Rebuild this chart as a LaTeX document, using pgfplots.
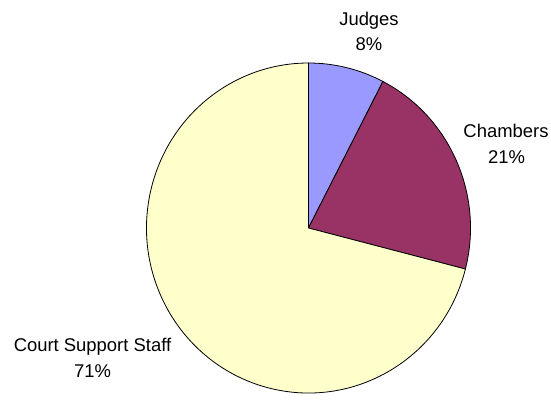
\documentclass[border=0pt]{standalone}
\usepackage{fontspec}
\setmainfont{Liberation Sans}
\usepackage{pgfplots}
\usepackage{pgfplotstable}
\pgfplotsset{compat=1.18}
\definecolor{cJudges}{HTML}{9999FF}
\definecolor{cChambers}{HTML}{993366}
\definecolor{cCourt}{HTML}{FFFFCC}
\pgfplotstableread{
share
7.6
21.4
71.0
}\piedata
\pgfplotstablegetelem{0}{share}\of\piedata \let\vJ\pgfplotsretval
\pgfplotstablegetelem{1}{share}\of\piedata \let\vC\pgfplotsretval
\pgfplotstablegetelem{2}{share}\of\piedata \let\vS\pgfplotsretval
\pgfmathsetmacro\aA{90}
\pgfmathsetmacro\aB{90-3.6*\vJ}
\pgfmathsetmacro\aC{\aB-3.6*\vC}
\pgfmathsetmacro\aD{\aC-3.6*\vS}
\begin{document}
\begin{tikzpicture}
\begin{axis}[
  scale only axis, width=551bp, height=396bp,
  xmin=0, xmax=551, ymin=0, ymax=396, y dir=reverse,
  hide axis, clip=false,
]
\path (axis cs:0,0) rectangle (axis cs:551,396);
\def\pieslice#1#2#3{%
  \filldraw[fill=#3, draw=black, line width=0.8bp, line join=round]
    (axis cs:308.5,228) -- ++({162bp*cos(#1)},{165bp*sin(#1)})
    arc[start angle=#1, end angle=#2, x radius=162bp, y radius=165bp] -- cycle;}
\pieslice{\aA}{\aB}{cJudges}
\pieslice{\aB}{\aC}{cChambers}
\pieslice{\aC}{\aD}{cCourt}
\tikzset{lbl/.style={anchor=base, inner sep=0pt, font=\fontsize{18.5}{22}\selectfont}}
\node[lbl] at (axis cs:369,25) {Judges};
\node[lbl] at (axis cs:369,50) {8\%};
\node[lbl] at (axis cs:506,137) {Chambers};
\node[lbl] at (axis cs:506.5,163) {21\%};
\node[lbl] at (axis cs:92.5,351) {Court Support Staff};
\node[lbl] at (axis cs:92.5,377) {71\%};
\end{axis}
\end{tikzpicture}
\end{document}
